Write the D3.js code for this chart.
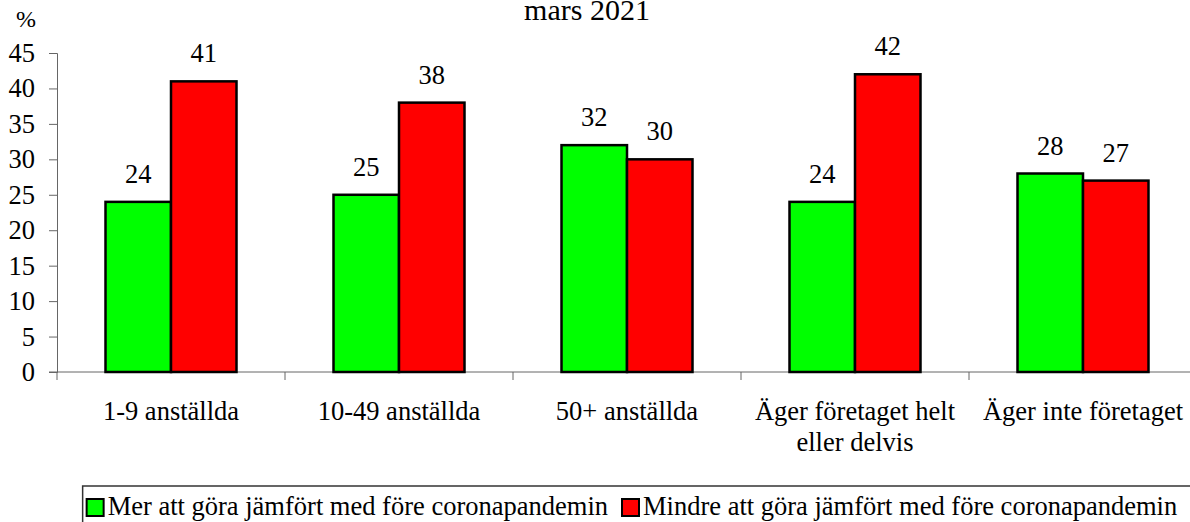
<!DOCTYPE html>
<meta charset="utf-8">
<style>
body { margin: 0; background: #fff; }
svg text { font-family: "Times New Roman", "Liberation Serif", "DejaVu Serif", serif !important; fill: #000; }
</style>
<svg width="1190" height="522"></svg>
<script src="https://d3js.org/d3.v7.min.js"></script>
<script>
// data
var categories = [["1-9 anställda"], ["10-49 anställda"], ["50+ anställda"], ["Äger företaget helt", "eller delvis"], ["Äger inte företaget"]];
var seriesNames = ["Mer att göra jämfört med före coronapandemin", "Mindre att göra jämfört med före coronapandemin"];
var seriesColors = ["#00ff00", "#ff0000"];
var merValues = [24, 25, 32, 24, 28];
var mindreValues = [41, 38, 30, 42, 27];
var yTicks = [0, 5, 10, 15, 20, 25, 30, 35, 40, 45];
var title = "mars 2021";

var svg = d3.select("svg");
var fs = 26.5;

var x = d3.scaleBand()
    .domain(d3.range(categories.length))
    .range([57, 57 + 5 * 228]);

var xs = d3.scaleBand()
    .domain([0, 1])
    .range([48.5, 179.5]);

var y = d3.scaleLinear()
    .domain([0, 45])
    .range([372, 53]);

// title (cut at top like in the reference)
svg.append("text")
    .attr("x", 587).attr("y", 20)
    .attr("text-anchor", "middle")
    .style("font-size", "30px")
    .text(title);

svg.append("text")
    .attr("x", 26).attr("y", 27)
    .attr("text-anchor", "middle")
    .style("font-size", "24px")
    .text("%");

// y axis
var yAxis = svg.append("g")
    .attr("transform", "translate(57,0)")
    .call(d3.axisLeft(y).tickValues(yTicks).tickSize(8).tickPadding(14));
yAxis.selectAll("text").style("font-size", fs + "px").attr("fill", "#000");
yAxis.selectAll("line, path").attr("stroke", "#666");

// x axis line + ticks at category boundaries
var xg = svg.append("g");
xg.append("line")
    .attr("x1", 49).attr("x2", 1197)
    .attr("y1", y(0)).attr("y2", y(0))
    .attr("stroke", "#666");
xg.selectAll("line.tick")
    .data(d3.range(categories.length + 1))
    .enter().append("line")
    .attr("class", "tick")
    .attr("x1", function(d) { return 57 + d * x.step(); })
    .attr("x2", function(d) { return 57 + d * x.step(); })
    .attr("y1", y(0)).attr("y2", y(0) + 8)
    .attr("stroke", "#666");

// category labels
var lab = svg.append("g").selectAll("text")
    .data(categories)
    .enter().append("text")
    .attr("text-anchor", "middle")
    .style("font-size", fs + "px")
    .attr("x", function(d, i) { return x(i) + x.bandwidth() / 2; })
    .attr("y", 420);
lab.selectAll("tspan")
    .data(function(d) { return d; })
    .enter().append("tspan")
    .attr("x", function() { return d3.select(this.parentNode).attr("x"); })
    .attr("dy", function(d, i) { return i ? 31 : 0; })
    .text(function(d) { return d; });

// bars
var rows = [];
categories.forEach(function(c, i) {
  rows.push({ c: i, s: 0, v: merValues[i] });
  rows.push({ c: i, s: 1, v: mindreValues[i] });
});

svg.append("g").selectAll("rect")
    .data(rows)
    .enter().append("rect")
    .attr("x", function(d) { return x(d.c) + xs(d.s); })
    .attr("width", xs.bandwidth())
    .attr("y", function(d) { return y(d.v); })
    .attr("height", function(d) { return y(0) - y(d.v); })
    .attr("fill", function(d) { return seriesColors[d.s]; })
    .attr("stroke", "#000")
    .attr("stroke-width", 2.5);

svg.append("g").selectAll("text")
    .data(rows)
    .enter().append("text")
    .attr("text-anchor", "middle")
    .style("font-size", fs + "px")
    .attr("x", function(d) { return x(d.c) + xs(d.s) + xs.bandwidth() / 2; })
    .attr("y", function(d) { return y(d.v) - 19; })
    .text(function(d) { return d.v; });

// legend
var leg = svg.append("g");
var box = leg.append("rect")
    .attr("y", 486).attr("height", 60)
    .attr("fill", "none").attr("stroke", "#333").attr("stroke-width", 1.5);
var t1 = leg.append("text").attr("y", 515).style("font-size", fs + "px").text(seriesNames[0]);
var t2 = leg.append("text").attr("x", 643).attr("y", 515).style("font-size", fs + "px").text(seriesNames[1]);
var w1 = t1.node().getComputedTextLength();
var t1x = 608 - w1;
t1.attr("x", t1x);
leg.append("rect").attr("x", t1x - 21).attr("y", 499).attr("width", 17).attr("height", 17)
    .attr("fill", seriesColors[0]).attr("stroke", "#000").attr("stroke-width", 2);
leg.append("rect").attr("x", 622).attr("y", 499).attr("width", 17).attr("height", 17)
    .attr("fill", seriesColors[1]).attr("stroke", "#000").attr("stroke-width", 2);
box.attr("x", t1x - 25).attr("width", 1300);
</script>
